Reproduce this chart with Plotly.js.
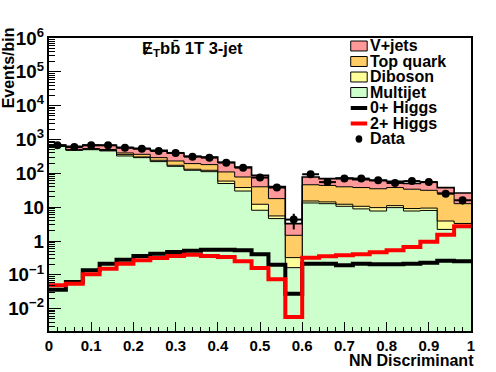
<!DOCTYPE html>
<html>
<head>
<meta charset="utf-8">
<script src="https://cdn.plot.ly/plotly-3.0.1.min.js"></script>
<style>
  html, body { margin: 0; padding: 0; background: #fff; }
  #plot { width: 496px; height: 372px; }
</style>
</head>
<body>
<div id="plot"></div>
<script>
// 25 bins of NN discriminant, width 0.04
const binEdges = [0, 0.04, 0.08, 0.12, 0.16, 0.2, 0.24, 0.28, 0.32, 0.36, 0.4, 0.44, 0.48,
    0.52, 0.56, 0.6, 0.64, 0.68, 0.72, 0.76, 0.8, 0.84, 0.88, 0.92, 0.96, 1];
const binCenters = [0.02, 0.06, 0.1, 0.14, 0.18, 0.22, 0.26, 0.3, 0.34, 0.38, 0.42, 0.46,
    0.5, 0.54, 0.58, 0.62, 0.66, 0.7, 0.74, 0.78, 0.82, 0.86, 0.9, 0.94, 0.98];

// backgrounds (stacked, bottom to top)
const multijet = [625, 480, 500, 460, 326, 291, 222, 161, 123, 112, 50, 30, 8.1, 4.6,
    0.163, 13.3, 12.7, 10.6, 8.9, 7.7, 9.7, 7.7, 8.0, 2.2, 2.5];
const diboson = [3, 8, 10, 12, 31, 14, 21, 12, 9, 11, 9, 8, 4.1, 0.9,
    0.16, 1.9, 1.6, 1.6, 1.7, 2.0, 1.4, 1.4, 1.4, 1.7, 0.8];
const topQuark = [10, 22, 30, 35, 43, 60, 48, 59, 62, 58, 51, 40, 27.8, 12.4,
    1.15, 30.8, 29.7, 27.8, 27.4, 25.3, 26.9, 24.9, 22.1, 22.3, 9.4];
const vJets = [52, 120, 145, 168, 175, 172, 188, 168, 125, 124, 102, 76, 47, 23,
    1.8, 32, 26, 33, 27, 27, 20, 16, 23.5, 11.6, 13.5];

// signals
const higgs0 = [0.0365, 0.0614, 0.136, 0.214, 0.281, 0.36, 0.422, 0.473, 0.518, 0.555, 0.555, 0.53, 0.404, 0.2,
    0.0278, 0.214, 0.214, 0.191, 0.214, 0.205, 0.205, 0.214, 0.229, 0.262, 0.25];
const higgs2 = [0.049, 0.0548, 0.1035, 0.152, 0.214, 0.268, 0.315, 0.36, 0.395, 0.36, 0.336, 0.25, 0.159, 0.0736,
    0.00568, 0.322, 0.352, 0.378, 0.404, 0.462, 0.53, 0.665, 0.955, 1.54, 2.72];

// data
const dataCounts = [673, 601, 673, 673, 574, 537, 458, 400, 311, 291, 207, 147, 75, 38,
    4.3, 94, 55, 70, 70, 62, 52, 59, 55, 25, 16];
const dataErr = [26, 25, 26, 26, 24, 23, 21, 20, 18, 17, 14, 12, 9, 6,
    2.1, 10, 7, 8, 8, 8, 7, 8, 7, 5, 4];

const stackNames = ['Multijet', 'Diboson', 'Top quark', 'V+jets'];
const stackColors = ['#ccffcc', '#ffff99', '#ffcc66', '#ff9999'];

const step = arr => [...arr, arr[arr.length - 1]];
const boldFont = (size, color) => ({ family: 'Liberation Sans, Arial, sans-serif', size: size, color: color || 'black', weight: 'bold' });

let cum = multijet.map(() => 0);
const stackTraces = [multijet, diboson, topQuark, vJets].map((vals, i) => {
    cum = cum.map((c, j) => c + vals[j]);
    return {
        type: 'scatter',
        mode: 'lines',
        name: stackNames[i],
        x: binEdges,
        y: step(cum),
        line: { shape: 'hv', color: 'black', width: i === 3 ? 1.6 : 1 },
        fill: i === 0 ? 'tozeroy' : 'tonexty',
        fillcolor: stackColors[i],
        hoverinfo: 'skip',
    };
});

const higgsTraces = [[higgs0, 'black', '0+ Higgs'], [higgs2, '#ff0000', '2+ Higgs']].map(([vals, color, name]) => ({
    type: 'scatter',
    mode: 'lines',
    name: name,
    x: binEdges,
    y: step(vals),
    line: { shape: 'hv', color: color, width: 4 },
    hoverinfo: 'skip',
}));

const dataTrace = {
    type: 'scatter',
    mode: 'markers',
    name: 'Data',
    x: binCenters,
    y: dataCounts,
    marker: { color: 'black', size: 8 },
    error_y: { type: 'data', array: dataErr, color: 'black', thickness: 2, width: 0 },
    error_x: { type: 'constant', value: 0.02, color: 'black', thickness: 2, width: 0 },
};

// hand-made legend like the ROOT one
const legendItems = [
    ['V+jets', 'box', '#ff9999'],
    ['Top quark', 'box', '#ffcc66'],
    ['Diboson', 'box', '#ffff99'],
    ['Multijet', 'box', '#ccffcc'],
    ['0+ Higgs', 'line', 'black'],
    ['2+ Higgs', 'line', '#ff0000'],
    ['Data', 'dot', 'black'],
];
const legTop = 0.9727, legStep = 0.0529, swX0 = 0.715, swX1 = 0.754;
let shapes = [], annotations = [];
legendItems.forEach(([name, kind, color], i) => {
    const yc = legTop - i * legStep;
    if (kind === 'box') {
        shapes.push({ type: 'rect', xref: 'paper', yref: 'paper', x0: swX0, x1: swX1, y0: yc - 0.017, y1: yc + 0.017,
            fillcolor: color, line: { color: 'black', width: 1 } });
    } else if (kind === 'line') {
        shapes.push({ type: 'line', xref: 'paper', yref: 'paper', x0: swX0, x1: swX1, y0: yc, y1: yc,
            line: { color: color, width: 4 } });
    } else {
        shapes.push({ type: 'circle', xref: 'paper', yref: 'paper', x0: 0.7265, x1: 0.7425, y0: yc - 0.0125, y1: yc + 0.0125,
            fillcolor: color, line: { color: color, width: 0 } });
    }
    annotations.push({ xref: 'paper', yref: 'paper', x: 0.759, y: yc, xanchor: 'left', yanchor: 'middle',
        text: name, showarrow: false, font: boldFont(16), borderpad: 0 });
});

annotations.push(
    { xref: 'paper', yref: 'paper', x: 0.216, y: 0.964, xanchor: 'left', yanchor: 'middle',
      text: 'Ɇ<sub>T</sub>bb\u0304 1T 3-jet', showarrow: false, font: boldFont(16.5) },
    { xref: 'paper', yref: 'paper', x: 1.009, y: -0.102, xanchor: 'right', yanchor: 'middle',
      text: 'NN Discriminant', showarrow: false, font: boldFont(16), borderpad: 0 },
    { xref: 'paper', yref: 'paper', x: -0.096, y: 0.898, xanchor: 'center', yanchor: 'middle', textangle: -90,
      text: 'Events/bin', showarrow: false, font: boldFont(16) }
);

const layout = {
    width: 496,
    height: 372,
    margin: { l: 49, r: 25, t: 38, b: 41 },
    paper_bgcolor: 'white',
    plot_bgcolor: 'white',
    showlegend: false,
    xaxis: {
        range: [0, 1],
        tick0: 0,
        dtick: 0.1,
        ticks: 'inside',
        ticklen: 9,
        tickwidth: 1,
        tickcolor: 'black',
        minor: { dtick: 0.02, ticks: 'inside', ticklen: 4.5, tickwidth: 1, tickcolor: 'black' },
        showline: true,
        linewidth: 2,
        linecolor: 'black',
        mirror: true,
        showgrid: false,
        zeroline: false,
        tickfont: boldFont(15),
    },
    yaxis: {
        type: 'log',
        range: [-2.66, 6],
        dtick: 1,
        exponentformat: 'power',
        ticks: 'inside',
        ticklen: 12,
        tickwidth: 1,
        tickcolor: 'black',
        minor: { dtick: 'D1', ticks: 'inside', ticklen: 6, tickwidth: 1, tickcolor: 'black' },
        showline: true,
        linewidth: 2,
        linecolor: 'black',
        mirror: true,
        showgrid: false,
        zeroline: false,
        tickfont: boldFont(15),
    },
    shapes: shapes,
    annotations: annotations,
};

Plotly.newPlot('plot', [...stackTraces, ...higgsTraces, dataTrace], layout, { staticPlot: true });
</script>
</body>
</html>
